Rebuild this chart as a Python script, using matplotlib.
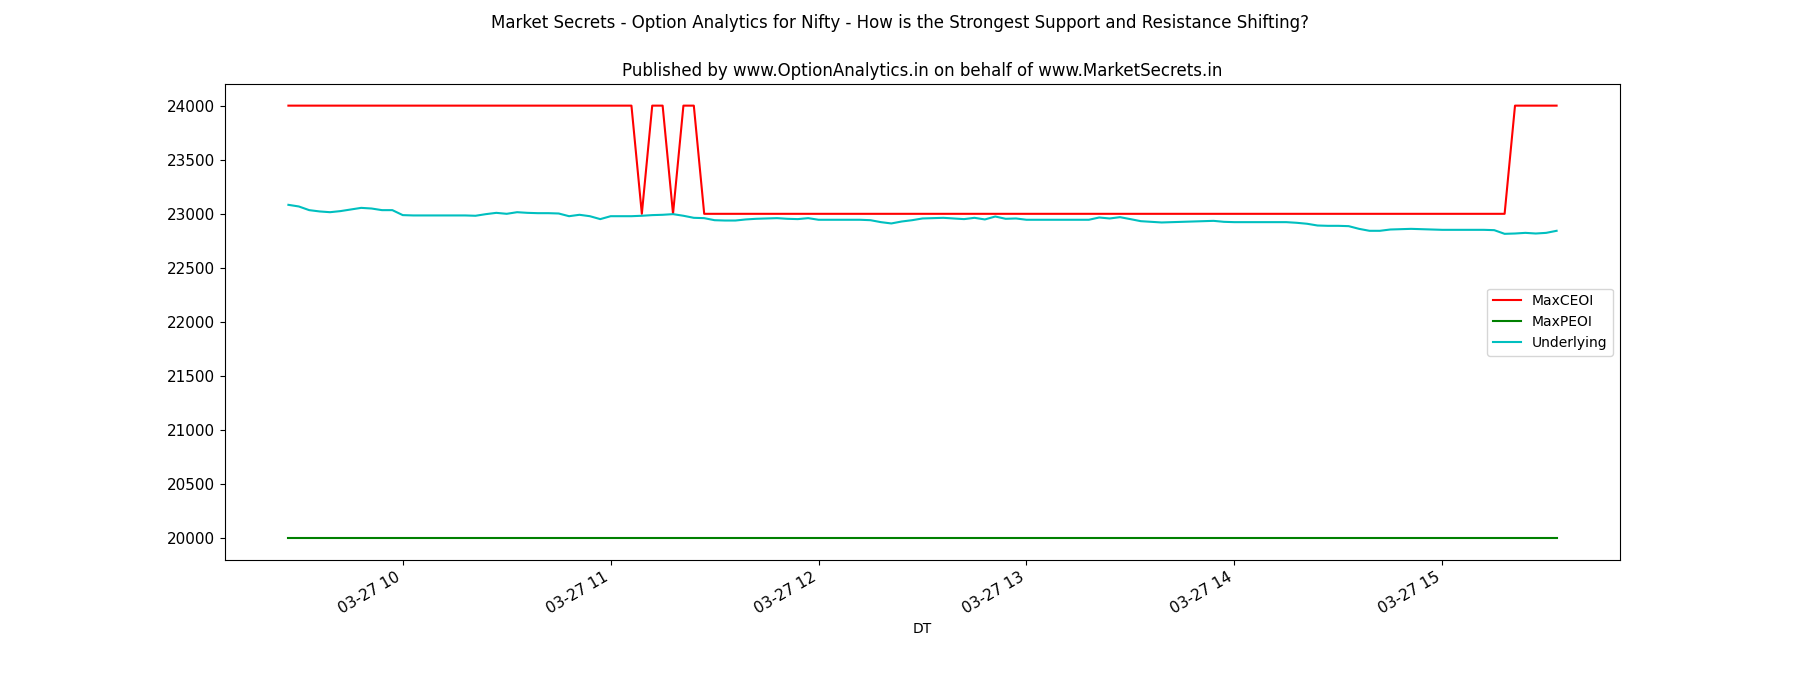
import numpy as np
import pandas as pd
import matplotlib
matplotlib.use("Agg")
import matplotlib.pyplot as plt
import matplotlib.dates as mdates

# 3-minute snapshots on 27 March, 09:27 -> 15:33
times = pd.date_range("2025-03-27 09:27", "2025-03-27 15:33", freq="3min")

max_ceoi = ([24000] * 34 + [23000] + [24000] * 2 + [23000] + [24000] * 2
            + [23000] * 78 + [24000] * 5)

max_peoi = [20000] * 123

underlying = [
    23083, 23068, 23034, 23022, 23015, 23025, 23040, 23055, 23049, 23034,
    23034, 22988, 22985, 22985, 22985, 22985, 22985, 22985, 22982, 22997,
    23009, 23000, 23015, 23009, 23006, 23006, 23003, 22978, 22991, 22978,
    22951, 22978, 22978, 22978, 22982, 22988, 22991, 22997, 22982, 22963,
    22960, 22941, 22938, 22938, 22948, 22954, 22957, 22960, 22954, 22951,
    22960, 22945, 22945, 22945, 22945, 22945, 22941, 22923, 22911, 22929,
    22941, 22957, 22960, 22963, 22957, 22951, 22963, 22948, 22975, 22954,
    22957, 22945, 22945, 22945, 22945, 22945, 22945, 22945, 22966, 22957,
    22969, 22951, 22932, 22926, 22920, 22923, 22926, 22929, 22932, 22935,
    22926, 22923, 22923, 22923, 22923, 22923, 22923, 22917, 22908, 22892,
    22889, 22889, 22886, 22861, 22843, 22843, 22855, 22858, 22861, 22858,
    22855, 22852, 22852, 22852, 22852, 22852, 22849, 22815, 22818, 22824,
    22818, 22824, 22843,
]

fig, ax = plt.subplots(figsize=(18, 7), dpi=100)
ax.plot(times, max_ceoi, color="r", label="MaxCEOI")
ax.plot(times, max_peoi, color="g", label="MaxPEOI")
ax.plot(times, underlying, color="c", label="Underlying")

ax.xaxis.set_major_locator(mdates.HourLocator())
ax.xaxis.set_major_formatter(mdates.DateFormatter("%m-%d %H"))
ax.tick_params(axis="both", labelsize=11)
ax.set_xlabel("DT")
ax.legend(loc="center right")
ax.set_title("Published by www.OptionAnalytics.in on behalf of www.MarketSecrets.in", fontsize=12)
fig.suptitle("Market Secrets - Option Analytics for Nifty - How is the Strongest Support and Resistance Shifting?", fontsize=12)
fig.autofmt_xdate()

fig.savefig("out.png", dpi=100)
